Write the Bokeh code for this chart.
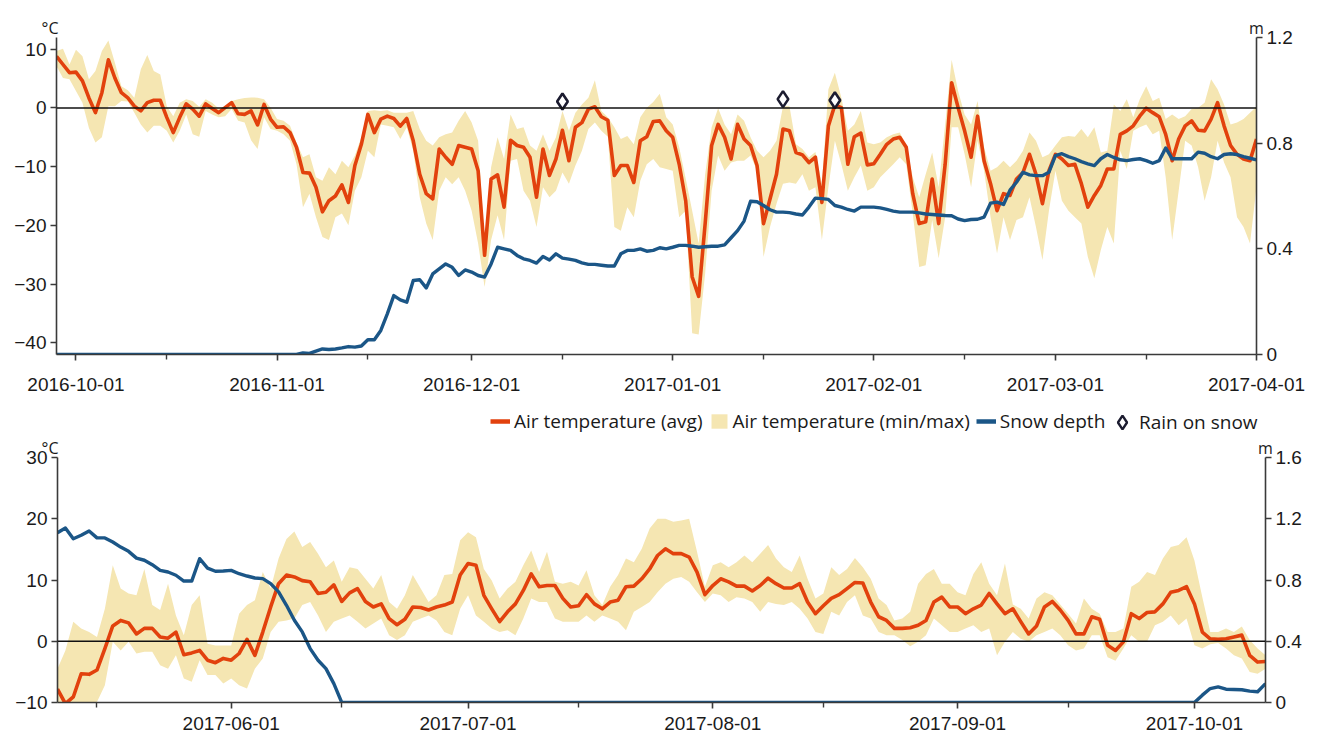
import pandas as pd
from bokeh.plotting import figure
from bokeh.models import (Range1d, LinearAxis, FixedTicker, DatetimeTickFormatter, Span, Label,
                          Legend, LegendItem, ColumnDataSource, CustomJSTickFormatter)
from bokeh.embed import file_html
from bokeh.resources import INLINE

# ---------------- data: winter 2016/17 (daily, from 2016-09-28) ----------------
top_start = "2016-09-28"
top_avg = [8.8, 7.4, 6.0, 6.1, 4.6, 1.7, -0.8, 2.6, 8.2, 5.1, 2.6, 1.7, 0.3, -0.5, 0.9, 1.3, 1.3, -1.6, -4.2, -1.6,
           0.7, -0.2, -1.4, 0.7, -0.1, -0.8, 0.05, 0.9, -1.0, -1.1, -0.5, -2.9, 0.6, -1.9, -3.3, -3.2, -4.2, -6.7, -11.0, -11.1,
           -13.5, -17.7, -15.8, -15.0, -13.1, -16.1, -9.8, -6.2, -1.1, -4.2, -1.9, -1.4, -1.8, -3.1, -1.8, -5.6, -11.3, -14.6, -15.5, -7.0,
           -8.4, -9.6, -6.4, -6.7, -7.0, -10.7, -25.1, -12.1, -11.4, -16.9, -5.5, -6.4, -6.7, -8.4, -15.2, -7.0, -11.5, -8.7, -3.8, -9.0,
           -3.3, -2.5, -0.2, 0.2, -1.5, -2.1, -11.5, -9.8, -9.8, -12.7, -5.6, -4.9, -2.3, -2.2, -3.9, -5.0, -9.6, -15.8, -28.8, -32.1,
           -19.7, -6.4, -2.8, -5.0, -8.7, -2.8, -5.3, -6.4, -9.8, -19.7, -15.5, -11.3, -3.6, -3.9, -7.6, -8.0, -9.3, -8.4, -16.1, -3.05,
           0.5, 0.05, -9.6, -4.9, -4.3, -9.7, -9.5, -7.9, -6.2, -5.3, -5.0, -6.7, -14.6, -19.7, -19.4, -12.1, -19.7, -9.6, 4.3, 0.05,
           -3.9, -8.4, -1.4, -9.0, -12.9, -17.5, -14.6, -14.9, -12.1, -11.0, -7.9, -11.3, -16.3, -10.7, -7.9, -8.7, -9.8, -9.6, -12.9, -16.9,
           -14.9, -13.2, -10.4, -10.4, -4.5, -3.9, -3.05, -1.4, -0.05, -0.8, -1.5, -4.5, -9.0, -5.3, -3.05, -2.2, -3.8, -3.9, -1.9, 0.9,
           -3.05, -6.4, -7.9, -8.7, -9.0, -5.3]
top_max = [9.7, 10.1, 7.4, 9.9, 8.8, 4.9, 6.3, 9.7, 11.5, 7.7, 3.7, 3.0, 1.75, 6.6, 9.0, 6.3, 5.7, 0.3, -1.4, 0.9,
           1.5, 1.2, 0.2, 1.5, 0.9, -0.1, 0.3, 1.2, 1.5, 1.7, 1.8, 1.75, 1.5, 0.05, -1.9, -2.2, -3.05, -5.9, -8.4, -7.9,
           -11.8, -12.4, -10.1, -11.3, -9.0, -10.1, -8.1, -5.0, -0.5, -0.4, -0.5, -0.4, -0.8, -0.8, -0.8, -0.5, -3.6, -5.6, -6.4, -5.0,
           -4.5, -4.2, -2.2, -0.5, -2.5, -5.6, -23.1, -10.1, -5.0, -8.7, -1.1, -3.6, -3.3, -6.4, -7.3, -4.5, -7.3, -5.0, -0.5, -3.9,
           -0.8, 0.6, 1.75, 4.7, -0.5, -1.6, -3.3, -5.3, -4.8, -6.2, -1.6, 0.05, 1.0, 2.4, -1.6, -2.8, -6.7, -12.0, -17.5, -23.1,
           -11.3, -3.3, -0.05, -2.8, -4.5, -1.1, -2.2, -5.0, -7.3, -8.4, -7.3, -5.6, 0.3, 0.3, -6.2, -7.0, -8.4, -7.5, -12.9, 3.2,
           6.0, 1.75, -3.9, -2.8, -0.5, -5.9, -6.2, -5.9, -5.0, -4.5, -4.2, -6.4, -11.8, -15.2, -11.3, -7.6, -13.5, -2.8, 8.2, 2.9,
           -1.1, -2.8, 1.2, -6.7, -10.7, -10.1, -9.0, -10.1, -9.0, -7.3, -4.2, -5.6, -8.4, -7.9, -6.4, -5.0, -4.8, -4.9, -3.6, -5.0,
           -3.3, -7.6, -7.3, 0.6, -0.5, 1.5, -1.6, 1.5, 3.7, 1.2, 1.75, -1.9, -1.1, -1.9, -1.4, -0.2, 0.05, 0.9, 4.9, 3.2,
           0.6, -2.8, -2.5, -1.9, -0.8, 0.2]
top_min = [7.1, 5.1, 4.9, 2.9, 0.9, -3.4, -5.9, -5.0, 0.3, 0.3, 1.2, 1.1, -0.8, -2.8, -4.2, -3.05, -3.05, -3.9, -5.9, -3.9,
           -1.1, -4.5, -4.9, -0.5, -1.1, -1.6, -1.4, -0.2, -2.2, -2.5, -5.5, -7.0, -1.6, -3.6, -3.9, -4.5, -5.6, -9.6, -16.9, -14.6,
           -18.6, -22.0, -22.5, -18.6, -18.0, -20.0, -14.1, -11.8, -7.3, -8.4, -2.8, -3.05, -3.3, -5.3, -3.3, -7.3, -15.2, -19.7, -22.5, -14.1,
           -11.8, -13.0, -11.8, -14.1, -17.5, -23.1, -30.5, -22.5, -18.3, -22.5, -9.0, -8.7, -14.1, -15.8, -20.3, -13.5, -15.2, -14.1, -11.0, -12.9,
           -9.8, -7.3, -3.6, -2.5, -3.9, -4.9, -20.3, -20.9, -16.9, -18.6, -12.4, -9.6, -8.7, -10.1, -10.4, -10.7, -18.6, -17.5, -38.4, -38.6,
           -28.2, -14.1, -8.1, -10.7, -9.3, -9.0, -9.0, -8.1, -10.7, -25.4, -20.3, -16.3, -12.9, -12.7, -12.9, -11.3, -14.1, -13.5, -22.5, -13.5,
           -5.6, -9.6, -14.1, -11.8, -9.8, -14.1, -13.5, -11.8, -10.7, -9.6, -8.4, -9.6, -18.0, -27.1, -26.8, -19.1, -25.6, -18.6, -3.3, -3.3,
           -7.9, -13.5, -5.6, -10.7, -18.6, -24.8, -18.6, -22.5, -19.1, -18.6, -15.2, -20.3, -25.9, -17.5, -10.7, -15.8, -17.5, -18.6, -19.7, -25.4,
           -29.0, -24.2, -20.3, -23.1, -7.3, -10.4, -3.9, -3.3, -2.8, -4.5, -3.9, -11.8, -22.5, -14.1, -5.6, -6.4, -10.1, -15.8, -11.8, -5.6,
           -9.3, -11.8, -18.6, -20.3, -23.1, -13.5]
top_snow = [0.0, 0.0, 0.0, 0.0, 0.0, 0.0, 0.0, 0.0, 0.0, 0.0, 0.0, 0.0, 0.0, 0.0, 0.0, 0.0, 0.0, 0.0, 0.0, 0.0,
            0.0, 0.0, 0.0, 0.0, 0.0, 0.0, 0.0, 0.0, 0.0, 0.0, 0.0, 0.0, 0.0, 0.0, 0.0, 0.0, 0.0, 0.0, 0.006, 0.004,
            0.013, 0.021, 0.019, 0.021, 0.025, 0.030, 0.028, 0.032, 0.056, 0.056, 0.091, 0.154, 0.223, 0.207, 0.198, 0.280, 0.283, 0.252, 0.305, 0.324,
            0.343, 0.330, 0.299, 0.320, 0.312, 0.299, 0.293, 0.343, 0.406, 0.400, 0.394, 0.375, 0.362, 0.356, 0.346, 0.371, 0.358, 0.381, 0.365, 0.361,
            0.356, 0.347, 0.341, 0.341, 0.338, 0.335, 0.335, 0.381, 0.394, 0.394, 0.400, 0.391, 0.394, 0.404, 0.400, 0.406, 0.413, 0.413, 0.410, 0.406,
            0.408, 0.410, 0.410, 0.415, 0.442, 0.469, 0.505, 0.580, 0.578, 0.564, 0.548, 0.539, 0.539, 0.537, 0.532, 0.528, 0.558, 0.592, 0.590, 0.587,
            0.564, 0.558, 0.549, 0.543, 0.558, 0.558, 0.558, 0.555, 0.549, 0.543, 0.539, 0.539, 0.539, 0.536, 0.532, 0.530, 0.528, 0.526, 0.525, 0.513,
            0.507, 0.511, 0.512, 0.520, 0.573, 0.577, 0.568, 0.622, 0.652, 0.690, 0.680, 0.677, 0.677, 0.690, 0.753, 0.760, 0.749, 0.741, 0.730, 0.722,
            0.715, 0.741, 0.757, 0.746, 0.737, 0.734, 0.738, 0.741, 0.734, 0.724, 0.734, 0.782, 0.741, 0.741, 0.741, 0.741, 0.766, 0.762, 0.749, 0.741,
            0.757, 0.760, 0.757, 0.749, 0.743, 0.737]
rain_dates = ["2016-12-15", "2017-01-18", "2017-01-26"]
rain_y = [1.1, 1.5, 1.3]

# ---------------- data: summer 2017 (daily, from 2017-05-10) ----------------
bot_start = "2017-05-10"
bot_avg = [-7.8, -10.2, -9.1, -5.3, -5.4, -4.7, -1.2, 2.5, 3.4, 3.0, 1.2, 2.1, 2.1, 0.7, 0.5, 1.5, -2.2, -1.9, -1.5, -3.1,
           -3.5, -2.8, -3.1, -2.0, 0.3, -2.3, 1.5, 5.6, 9.4, 10.8, 10.5, 9.9, 9.7, 7.8, 8.0, 9.2, 6.5, 7.9, 8.6, 6.5,
           5.6, 6.1, 3.7, 2.7, 3.6, 5.6, 5.5, 5.1, 5.6, 5.9, 6.4, 10.8, 12.7, 12.4, 7.5, 5.3, 3.2, 4.8, 6.1, 8.3,
           11.0, 8.9, 9.1, 9.1, 7.0, 5.6, 5.8, 7.6, 6.1, 5.3, 6.4, 6.7, 8.9, 9.0, 10.2, 11.8, 14.0, 15.1, 14.3, 14.3,
           13.75, 11.3, 7.6, 9.1, 10.2, 9.7, 9.0, 9.0, 8.2, 9.1, 10.3, 9.4, 8.7, 8.7, 9.4, 6.4, 4.5, 5.8, 7.0, 7.6,
           8.6, 9.6, 9.5, 6.4, 4.0, 3.4, 2.1, 2.1, 2.2, 2.6, 3.4, 6.4, 7.2, 5.6, 5.6, 4.5, 5.3, 5.9, 7.8, 6.1,
           4.5, 5.3, 3.2, 1.2, 2.5, 5.6, 6.5, 5.1, 3.4, 1.2, 1.2, 4.0, 3.6, -0.65, -1.5, -0.1, 4.5, 3.7, 4.7, 4.8,
           6.1, 8.0, 8.3, 8.9, 6.1, 1.5, 0.4, 0.3, 0.4, 0.7, 1.0, -2.3, -3.4, -3.3]
bot_max = [-4.5, -1.5, 3.2, 2.1, 1.5, 0.7, 5.3, 12.4, 8.6, 7.8, 7.5, 11.8, 5.9, 5.1, 9.4, 4.2, 1.0, 5.9, 7.5, -0.4,
           -0.7, -0.7, -0.7, 4.5, 5.9, 6.7, 11.3, 8.6, 13.5, 16.7, 17.9, 15.4, 16.2, 14.3, 12.1, 13.2, 9.7, 12.1, 11.8, 10.2,
           8.6, 10.8, 6.4, 5.3, 7.5, 10.8, 8.6, 6.4, 7.5, 10.8, 11.0, 16.5, 17.8, 17.0, 11.8, 9.9, 7.0, 8.6, 9.7, 12.4,
           14.8, 11.3, 14.6, 9.7, 9.4, 9.7, 9.1, 11.6, 7.5, 5.9, 8.9, 10.8, 13.5, 12.9, 15.1, 18.4, 20.0, 20.0, 19.5, 19.7,
           20.0, 14.6, 8.9, 12.4, 12.9, 12.1, 12.9, 14.0, 12.9, 14.3, 15.7, 13.5, 12.1, 11.3, 14.0, 10.2, 7.0, 7.8, 12.1, 10.8,
           11.8, 13.6, 12.1, 10.2, 7.0, 5.9, 3.4, 3.7, 4.8, 9.4, 11.0, 11.8, 9.4, 9.4, 8.0, 7.5, 11.0, 12.9, 9.4, 7.5,
           12.7, 6.0, 5.3, 3.7, 7.0, 8.0, 7.5, 6.0, 4.5, 2.9, 7.0, 5.3, 4.5, 1.5, 1.5, 2.1, 8.9, 9.7, 11.3, 10.8,
           13.5, 15.4, 15.7, 17.0, 13.2, 7.2, 1.5, 1.5, 2.1, 1.5, 2.4, 0.2, -1.2, -2.3]
bot_min = [-10.4, -10.4, -10.4, -10.2, -9.9, -9.9, -7.2, -0.1, -1.5, -0.1, -2.0, -1.7, -1.7, -3.9, -4.5, -2.3, -6.1, -6.6, -3.1, -5.5,
           -5.5, -6.9, -6.1, -7.2, -7.7, -4.5, -2.8, 1.5, 3.2, 3.4, 3.7, 5.9, 6.4, 4.2, 1.5, 3.2, 3.7, 4.2, 3.2, 2.1,
           2.9, 3.7, 1.0, 0.2, 1.0, 3.2, 3.7, 4.2, 3.4, 1.5, 1.0, 5.3, 7.5, 4.2, 3.2, 2.1, 1.5, 1.8, 1.0, 3.7,
           7.0, 6.4, 6.4, 3.7, 3.2, 3.2, 3.2, 4.2, 3.2, 4.2, 3.7, 3.2, 1.8, 4.8, 5.6, 6.4, 8.0, 9.4, 10.2, 10.5,
           9.7, 8.0, 6.4, 7.8, 7.5, 6.4, 7.2, 7.0, 6.4, 4.8, 6.4, 6.1, 5.9, 6.4, 5.3, 3.7, 1.5, 1.2, 4.8, 4.2,
           6.4, 7.5, 4.2, 3.7, 1.5, 1.0, 1.0, 0.2, -0.8, -0.1, 1.0, 3.7, 2.6, 1.5, 1.5, 2.1, 2.6, 1.5, 2.1, -2.3,
           -0.1, 1.5, 0.4, -0.1, 1.0, 1.5, 2.1, 1.0, -0.65, -1.5, -1.2, 1.0, 1.0, -2.6, -3.2, -1.2, 1.0, -0.1, -0.1, 2.6,
           3.2, 4.2, 2.6, 3.7, -0.65, -1.2, -0.5, -0.3, -1.2, -2.3, -2.8, -5.0, -5.3, -4.5]
bot_snow = [1.109, 1.139, 1.069, 1.092, 1.120, 1.075, 1.075, 1.048, 1.015, 0.987, 0.943, 0.929, 0.900, 0.863, 0.852, 0.831, 0.793, 0.793, 0.939, 0.878,
            0.857, 0.859, 0.863, 0.841, 0.826, 0.813, 0.809, 0.776, 0.722, 0.635, 0.537, 0.461, 0.352, 0.276, 0.221, 0.123, 0.0, 0.0, 0.0, 0.0,
            0.0, 0.0, 0.0, 0.0, 0.0, 0.0, 0.0, 0.0, 0.0, 0.0, 0.0, 0.0, 0.0, 0.0, 0.0, 0.0, 0.0, 0.0, 0.0, 0.0,
            0.0, 0.0, 0.0, 0.0, 0.0, 0.0, 0.0, 0.0, 0.0, 0.0, 0.0, 0.0, 0.0, 0.0, 0.0, 0.0, 0.0, 0.0, 0.0, 0.0,
            0.0, 0.0, 0.0, 0.0, 0.0, 0.0, 0.0, 0.0, 0.0, 0.0, 0.0, 0.0, 0.0, 0.0, 0.0, 0.0, 0.0, 0.0, 0.0, 0.0,
            0.0, 0.0, 0.0, 0.0, 0.0, 0.0, 0.0, 0.0, 0.0, 0.0, 0.0, 0.0, 0.0, 0.0, 0.0, 0.0, 0.0, 0.0, 0.0, 0.0,
            0.0, 0.0, 0.0, 0.0, 0.0, 0.0, 0.0, 0.0, 0.0, 0.0, 0.0, 0.0, 0.0, 0.0, 0.0, 0.0, 0.0, 0.0, 0.0, 0.0,
            0.0, 0.0, 0.0, 0.0, 0.0, 0.048, 0.091, 0.102, 0.087, 0.085, 0.083, 0.074, 0.070, 0.123]

# ---------------- axis ticks / labels ----------------
top_month_ticks = ["2016-10-01", "2016-11-01", "2016-12-01", "2017-01-01", "2017-02-01", "2017-03-01", "2017-04-01"]
top_minor_ticks = ["2016-10-15", "2016-11-15", "2016-12-15", "2017-01-15", "2017-02-15", "2017-03-15"]
bot_month_ticks = ["2017-06-01", "2017-07-01", "2017-08-01", "2017-09-01", "2017-10-01"]
bot_minor_ticks = ["2017-05-15", "2017-06-15", "2017-07-15", "2017-08-15", "2017-09-15"]
top_temp_ticks = [-40, -30, -20, -10, 0, 10]
bot_temp_ticks = [-10, 0, 10, 20, 30]
top_snow_ticks = [0, 0.4, 0.8, 1.2]
bot_snow_ticks = [0, 0.4, 0.8, 1.2, 1.6]
legend_labels = ["Air temperature (avg)", "Air temperature (min/max)", "Snow depth", "Rain on snow"]

RED = "#e2410d"
BAND = "#f5e6b2"
BLUE = "#1b5687"
MARK = "#1c1c30"
AXC = "#3a3a3a"
TICK_FONT = "Liberation Sans"
TXT_FONT = "Open Sans"
W = 1320


def ms(s):
    return pd.Timestamp(s).value // 10**6


def style_axis(ax, size="19px"):
    ax.axis_line_color = AXC
    ax.axis_line_width = 1.6
    ax.major_tick_line_color = AXC
    ax.major_tick_line_width = 1.6
    ax.minor_tick_line_color = AXC
    ax.minor_tick_line_width = 1.4
    ax.major_tick_in = 0
    ax.major_tick_out = 6
    ax.minor_tick_in = 0
    ax.minor_tick_out = 5
    ax.major_label_text_font = TICK_FONT
    ax.major_label_text_font_size = size
    ax.major_label_text_color = "#1a1a1a"


def strip(width, height, overlap, on_top):
    f = figure(width=width, height=height, x_range=Range1d(0, width), y_range=Range1d(0, height),
               output_backend="svg", toolbar_location=None,
               min_border_left=0, min_border_right=0, min_border_top=0, min_border_bottom=0,
               x_axis_location=None, y_axis_location=None)
    f.outline_line_color = None
    f.xgrid.visible = False
    f.ygrid.visible = False
    styles = {"margin-bottom": f"-{overlap}px"}
    if on_top:
        f.border_fill_color = None
        f.background_fill_color = None
        styles.update({"position": "relative", "z-index": "2"})
    f.styles = styles
    return f


def unit_label(f, x, y, text, align):
    f.add_layout(Label(x=x, y=y, text=text, text_align=align, text_baseline="alphabetic",
                       text_font=TXT_FONT, text_font_size="16px", text_color="#1a1a1a"))


def panel(src, x0, x1, yr, sr, month_ticks, minor_ticks, t_ticks, s_ticks, height, borders, standoff):
    p = figure(width=W, height=height, x_axis_type="datetime",
               x_range=Range1d(pd.Timestamp(x0), pd.Timestamp(x1)), y_range=Range1d(*yr),
               output_backend="svg", toolbar_location=None,
               min_border_left=borders[0], min_border_right=borders[1],
               min_border_top=borders[2], min_border_bottom=borders[3])
    p.extra_y_ranges = {"snow": Range1d(*sr)}
    p.outline_line_color = None
    p.border_fill_color = None
    p.background_fill_color = None
    p.xgrid.visible = False
    p.ygrid.visible = False

    p.varea(x="date", y1="tmin", y2="tmax", source=src, fill_color=BAND)
    p.add_layout(Span(location=0, dimension="width", line_color="#111111", line_width=1.4))
    p.line(x="date", y="avg", source=src, line_color=RED, line_width=3.6, line_join="round")
    p.line(x="date", y="snow", source=src, line_color=BLUE, line_width=3.4, line_join="round",
           y_range_name="snow")

    xa = p.xaxis[0]
    xa.ticker = FixedTicker(ticks=[ms(t) for t in month_ticks], minor_ticks=[ms(t) for t in minor_ticks])
    xa.formatter = DatetimeTickFormatter(days="%Y-%m-%d", months="%Y-%m-%d", years="%Y-%m-%d")
    style_axis(xa)
    xa.major_label_standoff = standoff

    ya = p.yaxis[0]
    ya.ticker = FixedTicker(ticks=t_ticks)
    style_axis(ya)
    ya.major_label_standoff = 4

    ra = LinearAxis(y_range_name="snow", ticker=FixedTicker(ticks=s_ticks),
                    formatter=CustomJSTickFormatter(code=r"return tick.toFixed(1).replace(/\.0$/, '');"))
    style_axis(ra)
    ra.major_label_standoff = 4
    p.add_layout(ra, "right")
    return p


top_src = ColumnDataSource(dict(date=pd.date_range(top_start, periods=len(top_avg), freq="D"),
                                avg=top_avg, tmin=top_min, tmax=top_max, snow=top_snow))
bot_src = ColumnDataSource(dict(date=pd.date_range(bot_start, periods=len(bot_avg), freq="D"),
                                avg=bot_avg, tmin=bot_min, tmax=bot_max, snow=bot_snow))
rain_src = ColumnDataSource(dict(date=pd.to_datetime(rain_dates), y=rain_y))

# header above the first panel (unit labels); page y 0..37, drawn over the panel's transparent border
head = strip(1266, 37, 11, True)
unit_label(head, 58, 10, "°C", "right")
unit_label(head, 1256, 10, "m", "center")

# first panel; page y 26..400, frame 37..354
top = panel(top_src, "2016-09-28", "2017-04-01", (-42, 12), (0, 1.2), top_month_ticks, top_minor_ticks,
            top_temp_ticks, top_snow_ticks, 374, (56, 64, 11, 46), 17)
top.scatter(x="date", y="y", source=rain_src, marker="diamond", size=16, fill_color="white",
            line_color=MARK, line_width=2.6)

# middle strip: legend + unit labels of the second panel; page y 400..457
mid = strip(W, 57, 11, False)
unit_label(mid, 58, 10, "°C", "right")
unit_label(mid, 1265, 10, "m", "center")
# legend keys: the real series, drawn in this strip's (pixel) ranges so that they fall outside its view
r_avg = mid.line(x="date", y="avg", source=bot_src, line_color=RED, line_width=4.5)
r_band = mid.varea(x="date", y1="tmin", y2="tmax", source=bot_src, fill_color=BAND)
r_snow = mid.line(x="date", y="snow", source=bot_src, line_color=BLUE, line_width=4.5)
r_rain = mid.scatter(x="date", y="y", source=rain_src, marker="diamond", fill_color="white",
                     line_color=MARK, line_width=2.4)
legend_a = Legend(items=[LegendItem(label=legend_labels[0], renderers=[r_avg]),
                         LegendItem(label=legend_labels[1], renderers=[r_band]),
                         LegendItem(label=legend_labels[2], renderers=[r_snow])],
                  orientation="horizontal", location=(490, 23), background_fill_alpha=0, border_line_color=None,
                  label_text_font=TXT_FONT, label_text_font_size="19px", label_text_color="#1a1a1a",
                  glyph_width=20, glyph_height=18, label_standoff=4, spacing=6, padding=2, margin=0)
legend_b = Legend(items=[LegendItem(label=legend_labels[3], renderers=[r_rain])],
                  orientation="horizontal", location=(1105, 16), background_fill_alpha=0, border_line_color=None,
                  label_text_font=TXT_FONT, label_text_font_size="19px", label_text_color="#1a1a1a",
                  glyph_width=34, glyph_height=38, label_standoff=0, spacing=0, padding=0, margin=0)
mid.add_layout(legend_a)
mid.add_layout(legend_b)

# second panel; page y 446..739, frame 457..702
bot = panel(bot_src, "2017-05-10", "2017-10-10", (-10, 30), (0, 1.6), bot_month_ticks, bot_minor_ticks,
            bot_temp_ticks, bot_snow_ticks, 293, (57, 55, 11, 37), 8)

open("out.html", "w").write(file_html([head, top, mid, bot], INLINE))
